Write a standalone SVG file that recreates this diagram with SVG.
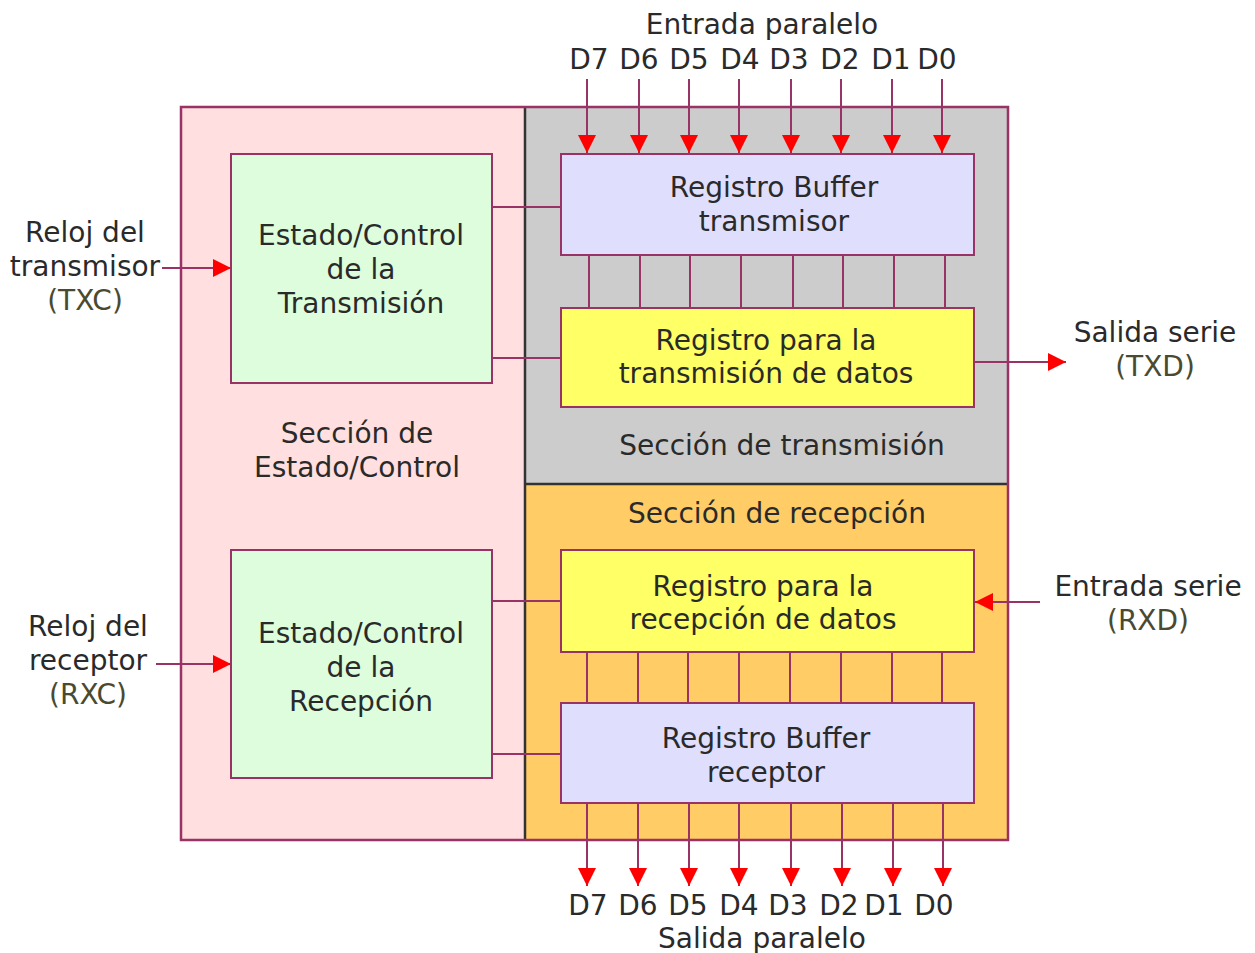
<svg xmlns="http://www.w3.org/2000/svg" width="1255" height="953" viewBox="0 0 1255 953">
<defs>
<style>
text{font-family:"DejaVu Sans",Verdana,sans-serif;font-size:28px;fill:#2a2a2a;text-anchor:middle}
.p{fill:#4a4a30}
.box{stroke:#993366;stroke-width:2}
.ln{stroke:#993366;stroke-width:2;fill:none}
.dv{stroke:#333;stroke-width:2.5}
</style>
<marker id="ah" markerUnits="userSpaceOnUse" markerWidth="18" markerHeight="18" refX="18" refY="9" orient="auto" viewBox="0 0 18 18">
<path d="M0,0 L18,9 L0,18 z" fill="#ff0000"/>
</marker>
</defs>
<rect width="1255" height="953" fill="#fff"/>
<g id="sections">
<rect x="181" y="107" width="344" height="733" fill="#ffdfdf"/>
<rect x="525" y="107" width="483" height="377" fill="#cccccc"/>
<rect x="525" y="484" width="483" height="356" fill="#ffcc66"/>
<line class="dv" x1="525" y1="107" x2="525" y2="840"/>
<line class="dv" x1="525" y1="484" x2="1008" y2="484"/>
<rect x="181" y="107" width="827" height="733" fill="none" stroke="#993366" stroke-width="2.5"/>
<text x="357" y="443">Sección de</text>
<text x="357" y="477">Estado/Control</text>
<text x="782" y="455">Sección de transmisión</text>
<text x="777" y="523">Sección de recepción</text>
</g>
<g id="connectors">
<line class="ln" x1="492" y1="207" x2="561" y2="207"/>
<line class="ln" x1="492" y1="358" x2="561" y2="358"/>
<line class="ln" x1="492" y1="601" x2="561" y2="601"/>
<line class="ln" x1="492" y1="754" x2="561" y2="754"/>
<g class="ln">
<path d="M589,255V308M640,255V308M690,255V308M741,255V308M793,255V308M843,255V308M894,255V308M945,255V308"/>
<path d="M587,652V703M638,652V703M688,652V703M739,652V703M790,652V703M841,652V703M892,652V703M942,652V703"/>
</g>
<g class="ln" marker-end="url(#ah)">
<line x1="587" y1="79" x2="587" y2="153"/>
<line x1="639" y1="79" x2="639" y2="153"/>
<line x1="689" y1="79" x2="689" y2="153"/>
<line x1="739" y1="79" x2="739" y2="153"/>
<line x1="791" y1="79" x2="791" y2="153"/>
<line x1="841" y1="79" x2="841" y2="153"/>
<line x1="892" y1="79" x2="892" y2="153"/>
<line x1="942" y1="79" x2="942" y2="153"/>
<line x1="587" y1="803" x2="587" y2="886"/>
<line x1="638" y1="803" x2="638" y2="886"/>
<line x1="689" y1="803" x2="689" y2="886"/>
<line x1="739" y1="803" x2="739" y2="886"/>
<line x1="791" y1="803" x2="791" y2="886"/>
<line x1="842" y1="803" x2="842" y2="886"/>
<line x1="893" y1="803" x2="893" y2="886"/>
<line x1="943" y1="803" x2="943" y2="886"/>
<line x1="162" y1="268" x2="231" y2="268"/>
<line x1="156" y1="664" x2="231" y2="664"/>
<line x1="974" y1="362" x2="1066" y2="362"/>
<line x1="1040" y1="602" x2="975" y2="602"/>
</g>
</g>
<g id="ctrl-tx">
<rect class="box" x="231" y="154" width="261" height="229" fill="#ddfddd"/>
<text x="361" y="245">Estado/Control</text>
<text x="361" y="279">de la</text>
<text x="361" y="313">Transmisión</text>
</g>
<g id="ctrl-rx">
<rect class="box" x="231" y="550" width="261" height="228" fill="#ddfddd"/>
<text x="361" y="643">Estado/Control</text>
<text x="361" y="677">de la</text>
<text x="361" y="711">Recepción</text>
</g>
<g id="buf-tx">
<rect class="box" x="561" y="154" width="413" height="101" fill="#dfdffd"/>
<text x="774" y="197">Registro Buffer</text>
<text x="774" y="231">transmisor</text>
</g>
<g id="reg-tx">
<rect class="box" x="561" y="308" width="413" height="99" fill="#ffff66"/>
<text x="766" y="350">Registro para la</text>
<text x="766" y="383">transmisión de datos</text>
</g>
<g id="reg-rx">
<rect class="box" x="561" y="550" width="413" height="102" fill="#ffff66"/>
<text x="763" y="596">Registro para la</text>
<text x="763" y="629">recepción de datos</text>
</g>
<g id="buf-rx">
<rect class="box" x="561" y="703" width="413" height="100" fill="#dfdffd"/>
<text x="766" y="748">Registro Buffer</text>
<text x="766" y="782">receptor</text>
</g>
<g id="labels">
<text x="762" y="34">Entrada paralelo</text>
<text x="589" y="69">D7</text>
<text x="639" y="69">D6</text>
<text x="689" y="69">D5</text>
<text x="740" y="69">D4</text>
<text x="789" y="69">D3</text>
<text x="840" y="69">D2</text>
<text x="891" y="69">D1</text>
<text x="937" y="69">D0</text>
<text x="588" y="915">D7</text>
<text x="638" y="915">D6</text>
<text x="688" y="915">D5</text>
<text x="739" y="915">D4</text>
<text x="788" y="915">D3</text>
<text x="839" y="915">D2</text>
<text x="884" y="915">D1</text>
<text x="934" y="915">D0</text>
<text x="762" y="948">Salida paralelo</text>
<text x="85" y="242">Reloj del</text>
<text x="85" y="276">transmisor</text>
<text class="p" x="85" y="310">(TXC)</text>
<text x="88" y="636">Reloj del</text>
<text x="88" y="670">receptor</text>
<text class="p" x="88" y="704">(RXC)</text>
<text x="1155" y="342">Salida serie</text>
<text class="p" x="1155" y="376">(TXD)</text>
<text x="1148" y="596">Entrada serie</text>
<text class="p" x="1148" y="630">(RXD)</text>
</g>
</svg>
